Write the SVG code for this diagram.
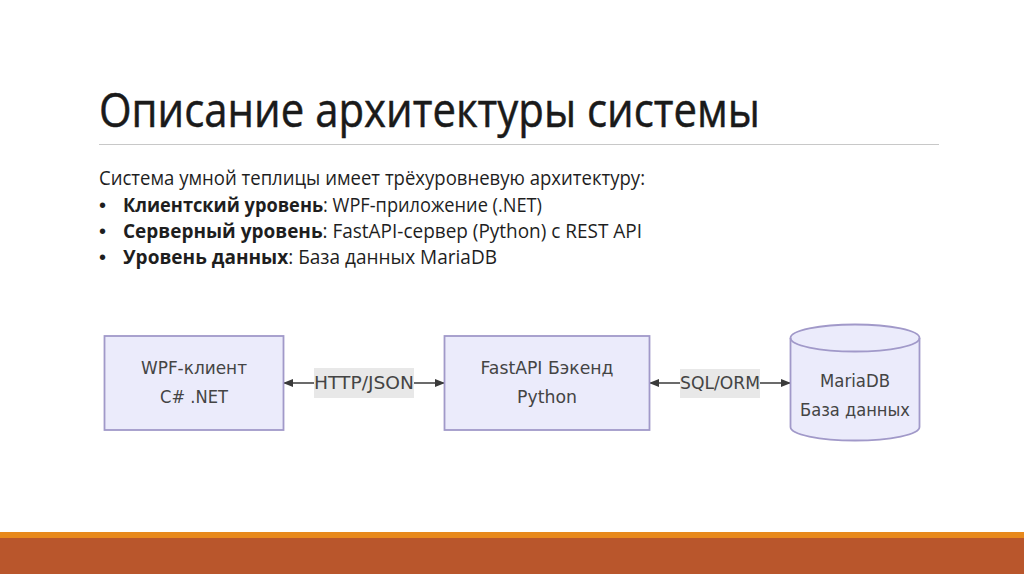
<svg xmlns="http://www.w3.org/2000/svg" width="1024" height="574" viewBox="0 0 1024 574">
<style>
.h{font-family:"Open Sans","Liberation Sans",sans-serif;font-size:47px;fill:#1a1a1a;stroke:#1a1a1a;stroke-width:.5}
.b{font-family:"Open Sans","Liberation Sans",sans-serif;font-size:19.500px;fill:#1e1e1e}
.b tspan.s{font-weight:700}
.bu{font-family:"Liberation Sans",sans-serif;font-size:20px;fill:#1e1e1e}
.n{font-family:"DejaVu Sans",sans-serif;font-size:17px;fill:#444;text-anchor:middle}
.shape{fill:#ebebfb;stroke:#a199c9;stroke-width:1.800}
.edge{stroke:#3a3a3a;stroke-width:1.500;fill:none;marker-start:url(#as);marker-end:url(#ae)}
.lab{fill:#e8e8e8}
</style>
<defs>
<marker id="ae" markerWidth="10" markerHeight="10" refX="9" refY="5" orient="auto" markerUnits="userSpaceOnUse"><path d="M0,1 L10,5 L0,9 Z" fill="#3a3a3a"/></marker>
<marker id="as" markerWidth="10" markerHeight="10" refX="1" refY="5" orient="auto" markerUnits="userSpaceOnUse"><path d="M10,1 L0,5 L10,9 Z" fill="#3a3a3a"/></marker>
</defs>
<rect width="1024" height="574" fill="#fff"/>
<text class="h" x="99" y="127" textLength="661" lengthAdjust="spacingAndGlyphs">Описание архитектуры системы</text>
<rect x="99" y="144" width="840" height="1" fill="#c8c8c8"/>
<text class="b" x="99" y="185" textLength="546" lengthAdjust="spacingAndGlyphs">Система умной теплицы имеет трёхуровневую архитектуру:</text>
<text class="bu" x="99" y="212">•</text>
<text class="b" x="123" y="212" textLength="419" lengthAdjust="spacingAndGlyphs"><tspan class="s">Клиентский уровень</tspan>: WPF-приложение (.NET)</text>
<text class="bu" x="99" y="238">•</text>
<text class="b" x="123" y="238" textLength="519" lengthAdjust="spacingAndGlyphs"><tspan class="s">Серверный уровень</tspan>: FastAPI-сервер (Python) с REST API</text>
<text class="bu" x="99" y="264">•</text>
<text class="b" x="123" y="264" textLength="374" lengthAdjust="spacingAndGlyphs"><tspan class="s">Уровень данных</tspan>: База данных MariaDB</text>
<g id="connectors">
<line class="edge" x1="284" y1="383" x2="444" y2="383"/>
<line class="edge" x1="650" y1="383" x2="790" y2="383"/>
<rect class="lab" x="314" y="368" width="100" height="30"/>
<text class="n" x="364" y="389" textLength="100" lengthAdjust="spacingAndGlyphs">HTTP/JSON</text>
<rect class="lab" x="680" y="369" width="80" height="29"/>
<text class="n" x="720" y="389" textLength="80" lengthAdjust="spacingAndGlyphs">SQL/ORM</text>
</g>
<g id="wpf">
<rect class="shape" x="104.500" y="336" width="179" height="94"/>
<text class="n" x="194" y="374" textLength="106" lengthAdjust="spacingAndGlyphs">WPF-клиент</text>
<text class="n" x="194" y="403" textLength="68" lengthAdjust="spacingAndGlyphs">C# .NET</text>
</g>
<g id="fastapi">
<rect class="shape" x="444.500" y="336" width="205" height="94"/>
<text class="n" x="547" y="374" textLength="133" lengthAdjust="spacingAndGlyphs">FastAPI Бэкенд</text>
<text class="n" x="547" y="403" textLength="60" lengthAdjust="spacingAndGlyphs">Python</text>
</g>
<g id="mariadb">
<path class="shape" d="M790.500,338 A64.500,13.500 0 0 1 919.500,338 V427 A64.500,13.500 0 0 1 790.500,427 Z"/>
<path d="M790.500,338 A64.500,13.500 0 0 0 919.500,338" fill="none" stroke="#a199c9" stroke-width="1.800"/>
<text class="n" x="855" y="387" textLength="70" lengthAdjust="spacingAndGlyphs">MariaDB</text>
<text class="n" x="855" y="416" textLength="110" lengthAdjust="spacingAndGlyphs">База данных</text>
</g>
<rect y="532" width="1024" height="6" fill="#e8891c"/>
<rect y="538" width="1024" height="36" fill="#b9562c"/>
</svg>
